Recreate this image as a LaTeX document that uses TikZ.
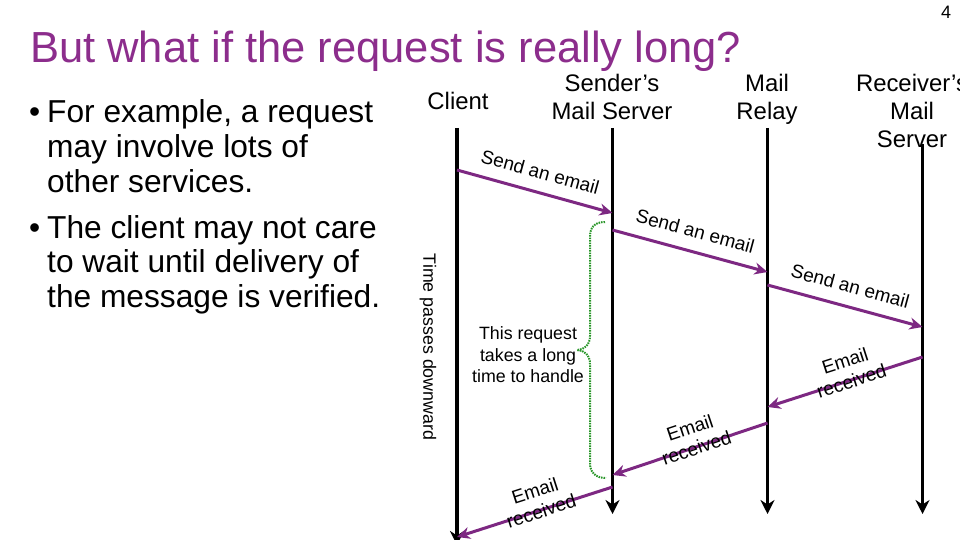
\documentclass[tikz,border=0pt]{standalone}
\usepackage{fontspec}
\setmainfont{Liberation Sans}
\usetikzlibrary{arrows.meta,positioning}
\definecolor{titlepurple}{RGB}{140,45,140}
\definecolor{msgpurple}{RGB}{125,40,130}
\definecolor{bracegreen}{RGB}{40,150,40}

\begin{document}
\begin{tikzpicture}[x=1pt, y=-1pt,
  life/.style={draw=black, line width=3.4pt, -{Stealth[length=14pt, width=14pt]}},
  msg/.style={draw=msgpurple, line width=3pt, -{Stealth[length=13pt, width=12pt]}},
  head/.style={font=\fontsize{23.9}{28}\selectfont, align=center, inner sep=0, anchor=base},
  sendlbl/.style={font=\fontsize{19}{20}\selectfont, sloped, above=12pt, inner sep=0},
  recvlbl/.style={font=\fontsize{19}{21}\selectfont, sloped, align=center, inner sep=0,
    pos=0.46, yshift=9.5pt},
  note/.style={font=\fontsize{17.8}{21.5}\selectfont, align=center, inner sep=0},
  item/.style={font=\fontsize{31.7}{34.7}\selectfont, align=left, inner sep=0, anchor=base west},
  brace/.style={draw=bracegreen, line width=2pt, dash pattern=on 1.5pt off 1pt}]
\useasboundingbox (0,0) rectangle (960,540);
\fill[white] (0,0) rectangle (960,540);
\clip (0,0) rectangle (960,540);
\node[font=\fontsize{43.5}{48}\selectfont, text=titlepurple, inner sep=0, anchor=base west]
  (title) at (30,63) {But what if the request is really long?};
\node[font=\fontsize{18}{20}\selectfont, inner sep=0] (page) at (946,12) {4};
\node[item] (dot1) at (29,123) {•};
\node[item] (item1) at (47,192.4) {For example, a request\\may involve lots of\\other services.};
\node[item] (dot2) at (29,238) {•};
\node[item] (item2) at (47,307.4) {The client may not care\\to wait until delivery of\\the message is verified.};
\node[head] (client) at (458,110) {Client};
\node[head] (sender) at (612,120) {Sender’s\\Mail Server};
\node[head] (relay) at (767,120) {Mail\\Relay};
\node[head] (receiver) at (912,148) {Receiver’s\\Mail\\Server};
\coordinate (cli-top) at (457,128);
\coordinate (cli-end) at (457,545);
\coordinate (snd-top) at (612.5,128);
\coordinate (snd-end) at (612.5,514);
\coordinate (rel-top) at (767.5,128);
\coordinate (rel-end) at (767.5,514);
\coordinate (rcv-top) at (922.5,144);
\coordinate (rcv-end) at (922.5,514);
\draw[life] (cli-top) -- (cli-end);
\draw[life] (snd-top) -- (snd-end);
\draw[life] (rel-top) -- (rel-end);
\draw[life] (rcv-top) -- (rcv-end);
\coordinate (cli-1) at (457,170);
\coordinate (snd-1) at (612.5,213);
\coordinate (snd-2) at (612.5,230);
\coordinate (rel-2) at (767.5,272);
\coordinate (rel-3) at (767.5,285);
\coordinate (rcv-3) at (922.5,327);
\coordinate (rcv-4) at (922.5,357);
\coordinate (rel-4) at (767.5,407);
\coordinate (rel-5) at (767.5,423);
\coordinate (snd-5) at (612.5,475);
\coordinate (snd-6) at (612.5,487);
\coordinate (cli-6) at (457,537);
\draw[msg] (cli-1) -- node[sendlbl] (send1) {Send an email} (snd-1);
\draw[msg] (snd-2) -- node[sendlbl] (send2) {Send an email} (rel-2);
\draw[msg] (rel-3) -- node[sendlbl] (send3) {Send an email} (rcv-3);
\draw[msg] (rcv-4) -- node[recvlbl] (recv1) {Email\\received} (rel-4);
\draw[msg] (rel-5) -- node[recvlbl] (recv2) {Email\\received} (snd-5);
\draw[msg] (snd-6) -- node[recvlbl] (recv3) {Email\\received} (cli-6);
\node[note, rotate=-90] (time) at (428,347) {Time passes downward};
\node[note] (slow) at (528,355) {This request\\takes a long\\time to handle};
\draw[brace] (605,222) .. controls (594,222) and (590,228) .. (590,237) -- (590,336)
  .. controls (590,345) and (584,350) .. (577,350)
  .. controls (584,350) and (590,355) .. (590,364) -- (590,463)
  .. controls (590,472) and (595,478) .. (606,478);
\end{tikzpicture}
\end{document}
